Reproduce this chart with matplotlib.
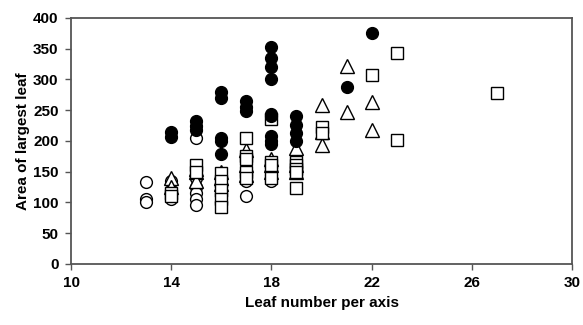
import matplotlib
matplotlib.use("Agg")
import matplotlib.pyplot as plt

plt.rcParams['font.family'] = ['Liberation Sans', 'DejaVu Sans']
plt.rcParams['font.weight'] = 'bold'

# open circles
open_circle_x = [13, 13, 13, 14, 14, 14, 15, 15, 15, 15, 15, 15,
                 16, 16, 16, 16, 17, 17, 17, 18, 18, 18]
open_circle_y = [133, 105, 100, 135, 120, 105, 205, 140, 125, 115, 105, 95,
                 130, 115, 110, 100, 145, 135, 110, 160, 145, 135]

# open triangles
triangle_x = [14, 14, 15, 15, 15, 16, 16, 16, 17, 17, 17, 18, 18, 18,
              19, 19, 19, 20, 20, 20, 21, 21, 22, 22]
triangle_y = [140, 125, 155, 150, 135, 150, 140, 130, 185, 160, 145, 170, 160, 150,
              188, 160, 150, 258, 215, 193, 322, 247, 263, 218]

# open squares
square_x = [14, 14, 15, 15, 16, 16, 16, 16, 16, 17, 17, 17, 17, 17,
            18, 18, 18, 18, 19, 19, 19, 19, 19, 20, 20, 22, 23, 23, 27]
square_y = [115, 110, 160, 150, 148, 135, 120, 105, 92, 205, 175, 170, 150, 140,
            235, 165, 160, 140, 165, 160, 155, 150, 123, 222, 213, 307, 343, 202, 278]

# filled circles
filled_x = [14, 14, 15, 15, 15, 16, 16, 16, 16, 16, 17, 17, 17,
            18, 18, 18, 18, 18, 18, 18, 18, 18, 19, 19, 19, 19, 21, 22]
filled_y = [215, 207, 233, 225, 218, 280, 270, 205, 200, 178, 265, 255, 248,
            352, 335, 320, 300, 243, 240, 208, 200, 195, 240, 226, 213, 200, 288, 375]

fig = plt.figure(figsize=(5.83, 3.25), dpi=100)
ax = fig.add_axes([0.122, 0.188, 0.859, 0.757])

ax.plot(open_circle_x, open_circle_y, 'o', ms=8.5, mfc='white', mec='black', mew=1.0, ls='none')
ax.plot(triangle_x, triangle_y, '^', ms=10, mfc='white', mec='black', mew=1.0, ls='none')
ax.plot(square_x, square_y, 's', ms=8.5, mfc='white', mec='black', mew=1.0, ls='none')
ax.plot(filled_x, filled_y, 'o', ms=8.5, mfc='black', mec='black', ls='none')

ax.set_xlim(10, 30)
ax.set_ylim(0, 400)
ax.set_xticks([10, 14, 18, 22, 26, 30])
ax.set_yticks(range(0, 401, 50))
ax.tick_params(direction='out', length=4, width=1, color='#555555',
               labelsize=11, pad=5)
for s in ax.spines.values():
    s.set_color('#555555')
    s.set_linewidth(1.3)

ax.set_xlabel('Leaf number per axis', fontsize=11, fontweight='bold', labelpad=4)
ax.set_ylabel('Area of largest leaf', fontsize=11, fontweight='bold', labelpad=2)

fig.savefig('out.png', dpi=100)
